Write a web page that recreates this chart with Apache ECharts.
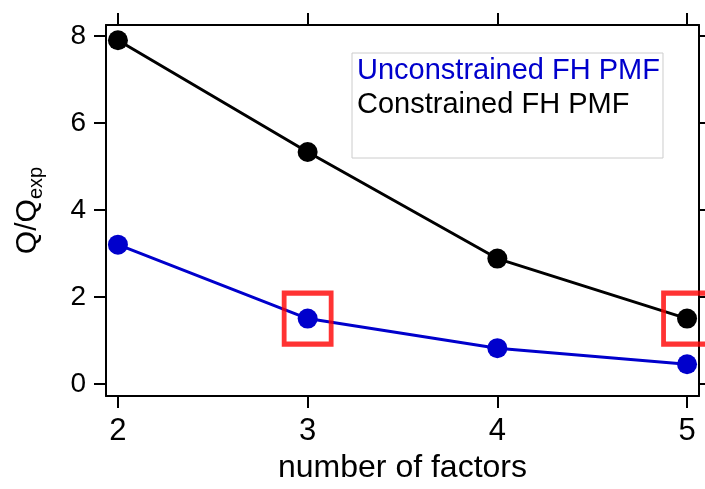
<!DOCTYPE html>
<html>
<head>
<meta charset="utf-8">
<script src="https://cdn.jsdelivr.net/npm/echarts@6/dist/echarts.min.js"></script>
<style>
  html, body { margin: 0; padding: 0; background: #fff; }
  #chart { width: 705px; height: 489px; }
</style>
</head>
<body>
<div id="chart"></div>
<script>
// number of factors
const factors       = [2, 3, 4, 5];
const unconstrained = [3.2, 1.5, 0.82, 0.45];
const constrained   = [7.9, 5.33, 2.88, 1.5];
// highlighted solutions (red boxes)
const picked        = [[3, 1.5], [5, 1.5]];
const yTicks        = [0, 2, 4, 6, 8];

const font = 'Arial, "Liberation Sans", sans-serif';
const toPairs = vals => factors.map((f, i) => [f, vals[i]]);

const chart = echarts.init(document.getElementById('chart'));

const xBase = {
  type: 'value',
  min: 1.937,
  max: 5.063,
  splitLine: { show: false },
  axisLine: { show: true, onZero: false, lineStyle: { color: '#000', width: 2 } },
  axisTick: { show: true, customValues: factors, length: 12, lineStyle: { color: '#000', width: 2 } }
};
const yBase = {
  type: 'value',
  min: -0.28,
  max: 8.25,
  splitLine: { show: false },
  axisLine: { show: true, onZero: false, lineStyle: { color: '#000', width: 2 } },
  axisTick: { show: true, customValues: yTicks, length: 12, lineStyle: { color: '#000', width: 2 } }
};

chart.setOption({
  animation: false,
  backgroundColor: '#fff',
  grid: { left: 106, right: 6, top: 25, bottom: 93 },
  legend: {
    data: [
      { name: 'Unconstrained FH PMF', textStyle: { color: '#0000cc' } },
      { name: 'Constrained FH PMF',   textStyle: { color: '#000' } }
    ],
    orient: 'vertical',
    left: 352,
    top: 53,
    icon: 'rect',
    itemWidth: 0,
    itemHeight: 30,
    itemGap: 4,
    padding: [3, 3, 38, 0],
    borderColor: '#cccccc',
    borderWidth: 1,
    selectedMode: false,
    textStyle: { fontFamily: font, fontSize: 29, padding: 0 }
  },
  xAxis: [
    {
      ...xBase,
      position: 'bottom',
      name: 'number of factors',
      nameLocation: 'middle',
      nameGap: 56,
      nameTextStyle: { fontFamily: font, fontSize: 32, color: '#000' },
      axisLabel: { customValues: factors, fontFamily: font, fontSize: 31, color: '#000', margin: 20 }
    },
    { ...xBase, position: 'top', axisLabel: { show: false } }
  ],
  yAxis: [
    {
      ...yBase,
      position: 'left',
      name: '{q|Q/Q}{s|exp}',
      nameLocation: 'middle',
      nameGap: 60,
      nameTextStyle: {
        rich: {
          q: { fontFamily: font, fontSize: 30, color: '#000' },
          s: { fontFamily: font, fontSize: 20, color: '#000', padding: [16, 0, 0, 0] }
        }
      },
      axisLabel: { customValues: yTicks, fontFamily: font, fontSize: 28, color: '#000', margin: 20 }
    },
    { ...yBase, position: 'right', axisLabel: { show: false } }
  ],
  series: [
    {
      name: 'Unconstrained FH PMF',
      type: 'line',
      data: toPairs(unconstrained),
      symbol: 'circle',
      symbolSize: 20,
      color: '#0000cc',
      lineStyle: { color: '#0000cc', width: 3 },
      z: 3
    },
    {
      name: 'Constrained FH PMF',
      type: 'line',
      data: toPairs(constrained),
      symbol: 'circle',
      symbolSize: 20,
      color: '#000',
      lineStyle: { color: '#000', width: 3 },
      z: 3
    },
    {
      name: 'picked',
      type: 'scatter',
      data: picked,
      symbol: 'rect',
      symbolSize: [47, 51],
      clip: false,
      itemStyle: { color: 'rgba(0,0,0,0)', borderColor: '#ff0000', borderWidth: 5 },
      z: 5
    }
  ]
});
</script>
</body>
</html>
